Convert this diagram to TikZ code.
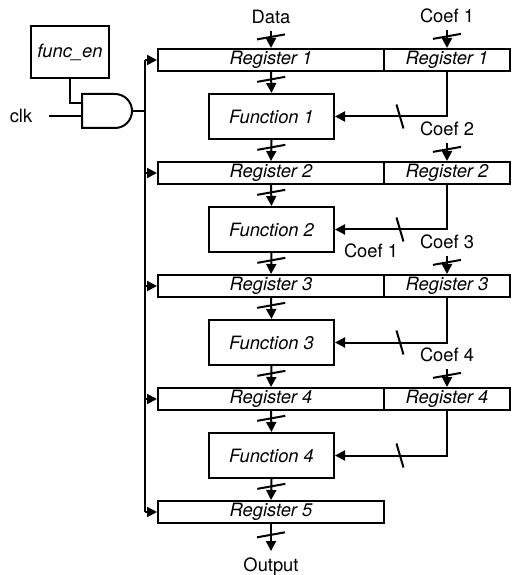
\documentclass[tikz,border=0pt]{standalone}
\usepackage{fontspec}
\setmainfont[Scale=1.1]{TeX Gyre Heros}
\usepackage{tikz}
\usetikzlibrary{arrows.meta}
\tikzstyle{arrow} = [line width=1.2pt,-{Triangle[length=6pt,width=6pt]}]
\tikzstyle{regbox} = [draw,line width=1.2pt,minimum height=13.2pt,inner sep=0pt,font=\itshape]
\tikzstyle{funcbox} = [draw,line width=1.2pt,minimum width=75pt,minimum height=27pt,font=\itshape]
\tikzset{busmark/.pic={\draw[-] (-14,2.5) -- (14,-2.5);},
         fbmark/.pic={\draw[-] (-3.5,-12) -- (3.5,12);}}

\begin{document}
\begin{tikzpicture}[x=0.6pt,y=-0.6pt,line width=1.2pt]
\useasboundingbox (0,0) rectangle (511,575);

% Enable and clock gating:
\node[draw,minimum width=45.6pt,minimum height=31.2pt,font=\itshape] (en) at (70,52) {func\_en};
\draw (82,94) -- (115,94) arc[start angle=-90,end angle=90,radius=17] -- (82,128) -- cycle;
\coordinate (g1) at (82,103);
\coordinate (g2) at (82,116);
\coordinate (gout) at (132,111);
\coordinate (bus) at (145,111);
\node (clk) at (21,116) {clk};
\draw ([xshift=6pt]clk.east) -- (g2);
\draw (en.south) |- (g1);
\draw (gout) -- (bus);

% Registers and functions:
\foreach \n in {1,...,5}{%
	\pgfmathsetmacro{\y}{60+113*(\n-1)}
	\node[regbox,minimum width=135.6pt] (rl\n) at (271,\y) {Register \n};
}
\foreach \n in {1,...,4}{%
	\pgfmathsetmacro{\y}{60+113*(\n-1)}
	\node[regbox,minimum width=75.6pt] (rr\n) at (447,\y) {Register \n};
	\node[funcbox] (f\n) at (271.5,\y+56.5) {Function \n};
	\node (c\n) at (447,\y-44) {Coef \n};
}
\node (data) at (271,17) {Data};
\node (out) at (271,567) {Output};
\node (cx) at (371,251) {Coef 1};

% Clock bus:
\draw (145,60) -- (145,512);
\foreach \n in {1,...,5}{%
	\draw[arrow] (rl\n.west -| bus) -- (rl\n.west);
}

% Data path:
\draw[arrow] (data.south) -- (rl1.north) pic[pos=.35]{busmark};
\foreach \n [count=\m from 2] in {1,...,4}{%
	\draw[arrow] (c\n.south) -- (rr\n.north) pic[pos=.35]{busmark};
	\draw[arrow] (rl\n.south) -- (f\n.north) pic[pos=.35]{busmark};
	\draw[arrow] (f\n.south) -- (rl\m.north) pic[pos=.35]{busmark};
	\draw[arrow] (rr\n.south) |- (f\n.east) pic[pos=.71]{fbmark};
}
\draw[arrow] (rl5.south) -- (out.north) pic[pos=.4]{busmark};
\end{tikzpicture}
\end{document}
